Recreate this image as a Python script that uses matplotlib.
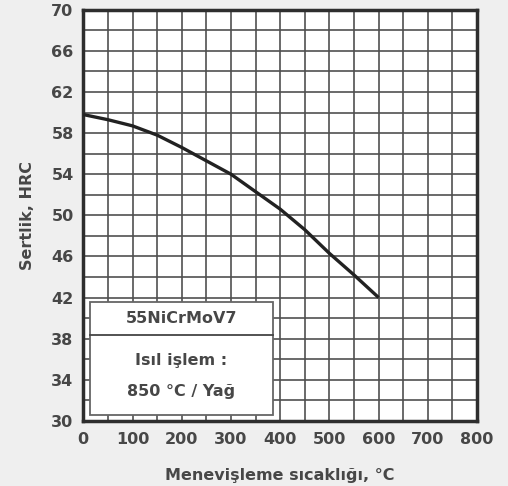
import matplotlib.pyplot as plt
from matplotlib.patches import Rectangle
from matplotlib.ticker import MultipleLocator

# Menevişleme sıcaklığı (°C) ve sertlik (HRC)
temp = [0, 50, 100, 150, 200, 250, 300, 350, 400, 450, 500, 550, 600]
hrc = [59.8, 59.3, 58.7, 57.8, 56.6, 55.3, 54.0, 52.3, 50.6, 48.6, 46.3, 44.2, 42.0]

x_ticks = [0, 100, 200, 300, 400, 500, 600, 700, 800]
y_ticks = [30, 34, 38, 42, 46, 50, 54, 58, 62, 66, 70]

txt = '#474747'
bg = '#efefef'
fs = 11.5

plt.rcParams['font.family'] = ['DejaVu Sans']
plt.rcParams['font.weight'] = 'bold'

fig = plt.figure(figsize=(5.08, 4.86), dpi=100, facecolor=bg)
ax = fig.add_axes([0.164, 0.134, 0.775, 0.846])
ax.set_facecolor('white')

ax.set_xlim(0, 800)
ax.set_ylim(30, 70)
ax.set_xticks(x_ticks)
ax.set_yticks(y_ticks)
ax.xaxis.set_minor_locator(MultipleLocator(50))
ax.yaxis.set_minor_locator(MultipleLocator(2))
ax.grid(True, which='both', color='#505050', linewidth=1.2, zorder=0)
ax.set_axisbelow(True)
ax.tick_params(which='both', length=0, labelsize=fs, labelcolor=txt)
ax.tick_params(axis='x', pad=8)
ax.tick_params(axis='y', pad=7)
for s in ax.spines.values():
    s.set_linewidth(2.5)
    s.set_color('#2e2e2e')

ax.plot(temp, hrc, color='#222222', linewidth=2.4, zorder=3,
        solid_capstyle='butt')

# bilgi kutusu
ax.add_patch(Rectangle((14, 30.6), 371, 11.0, facecolor='white',
                       edgecolor='#666666', linewidth=1.3, zorder=4))
ax.plot([14, 385], [38.4, 38.4], color='#444444', linewidth=1.3, zorder=5)
ax.text(199, 40.0, '55NiCrMoV7', ha='center', va='center', fontsize=fs,
        color=txt, fontweight='bold', zorder=6)
ax.text(199, 35.9, 'Isıl işlem :', ha='center', va='center', fontsize=fs,
        color=txt, fontweight='bold', zorder=6)
ax.text(199, 32.9, '850 °C / Yağ', ha='center', va='center', fontsize=fs,
        color=txt, fontweight='bold', zorder=6)

ax.set_xlabel('Menevişleme sıcaklığı, °C', fontsize=fs, color=txt,
              fontweight='bold', labelpad=15)
ax.set_ylabel('Sertlik, HRC', fontsize=fs, color=txt,
              fontweight='bold', labelpad=12)

fig.savefig('out.png', dpi=100, facecolor=bg)
